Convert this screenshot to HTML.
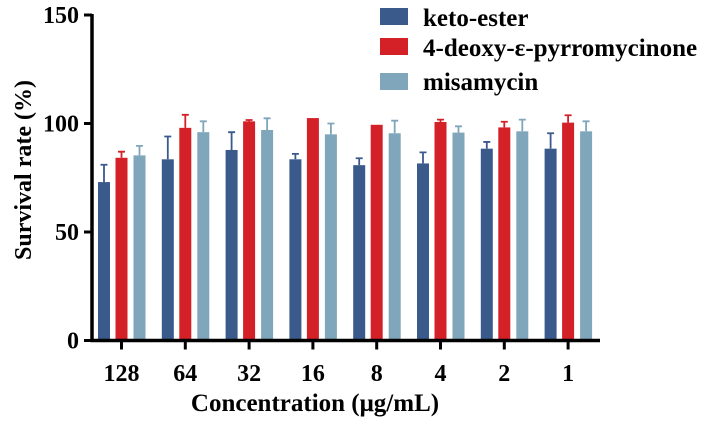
<!DOCTYPE html>
<html><head><meta charset="utf-8"><style>
html,body{margin:0;padding:0;background:#fff;}
svg{display:block;}
text{font-family:"Liberation Serif",serif;font-weight:bold;fill:#000;}
</style></head><body>
<svg id="chart" width="708" height="424">
<g id="bars"></g>
<g id="axes"></g>
<text x="0" y="0" font-size="24" text-anchor="middle" transform="translate(31,170) rotate(-90)">Survival rate (%)</text>
<text x="315" y="411" font-size="25" text-anchor="middle">Concentration (μg/mL)</text>
<g>
<rect x="380" y="8" width="28" height="17" fill="#3a5a8c"/>
<text x="423" y="26" font-size="25">keto-ester</text>
<rect x="380" y="38" width="28" height="17" fill="#d42027"/>
<text x="423" y="56" font-size="25">4-deoxy-ε-pyrromycinone</text>
<rect x="380" y="73" width="28" height="17" fill="#7fa6ba"/>
<text x="423" y="90" font-size="25">misamycin</text>
</g>
</svg>
<script>
const categories = ["128","64","32","16","8","4","2","1"];
const ketoMean = [73, 83.5, 87.8, 83.5, 80.8, 81.6, 88.4, 88.4];
const ketoErr  = [8, 10.5, 8.2, 2.5, 3.2, 5.1, 3.1, 7.1];
const deoxyMean = [84.2, 98, 101, 102.5, 99.4, 100.7, 98.2, 100.4];
const deoxyErr  = [2.8, 6, 0.6, 0, 0, 1.1, 2.6, 3.4];
const misaMean = [85.3, 96, 97, 95, 95.5, 95.8, 96.4, 96.4];
const misaErr  = [4.4, 5, 5.4, 5, 5.8, 2.9, 5.4, 4.6];
const yTicks = [0, 50, 100, 150];

const NS = "http://www.w3.org/2000/svg";
const y0 = 340.5, pxPer = 325.5/150;
const yScale = v => y0 - v*pxPer;
const xCenter = i => 121.5 + i*63.8;
const series = [
  {name:"keto-ester", mean:ketoMean, err:ketoErr, color:"#3a5a8c", off:-17.5},
  {name:"deoxy", mean:deoxyMean, err:deoxyErr, color:"#d42027", off:0},
  {name:"misamycin", mean:misaMean, err:misaErr, color:"#7fa6ba", off:18}
];
const bars = document.getElementById("bars");
const axes = document.getElementById("axes");
function mk(tag, attrs, parent){const e=document.createElementNS(NS,tag);for(const k in attrs)e.setAttribute(k,attrs[k]);parent.appendChild(e);return e;}
series.forEach(s=>{
  categories.forEach((c,i)=>{
    const cx = xCenter(i)+s.off, top = yScale(s.mean[i]);
    const r = mk("rect",{x:cx-6,y:top,width:12,height:y0-top,fill:s.color},bars);
    
    
    if(s.err[i]>0){
      const et = yScale(s.mean[i]+s.err[i]);
      const l = mk("path",{d:`M${cx} ${top} V${et} M${cx-3.5} ${et} H${cx+3.5}`,stroke:s.color,"stroke-width":1.8,fill:"none"},bars);
      
      
    }
  });
});
const ya = mk("line",{x1:92,y1:14,x2:92,y2:342,stroke:"#000","stroke-width":3.5},axes);


const xa = mk("line",{x1:90.5,y1:y0,x2:600,y2:y0,stroke:"#000","stroke-width":3.5},axes);


yTicks.forEach(t=>{
  const y=yScale(t);
  const tk=mk("line",{x1:84,y1:y,x2:92,y2:y,stroke:"#000","stroke-width":3},axes);
  
  
  const tx=mk("text",{x:79,y:y+8,"font-size":24,"text-anchor":"end"},axes);
  tx.textContent=t;
  
  
});
categories.forEach((c,i)=>{
  const x=xCenter(i);
  const tk=mk("line",{x1:x,y1:y0,x2:x,y2:y0+9,stroke:"#000","stroke-width":3},axes);
  
  
  const tx=mk("text",{x:x,y:381,"font-size":24,"text-anchor":"middle"},axes);
  tx.textContent=c;
  
  
});
</script>
</body></html>
